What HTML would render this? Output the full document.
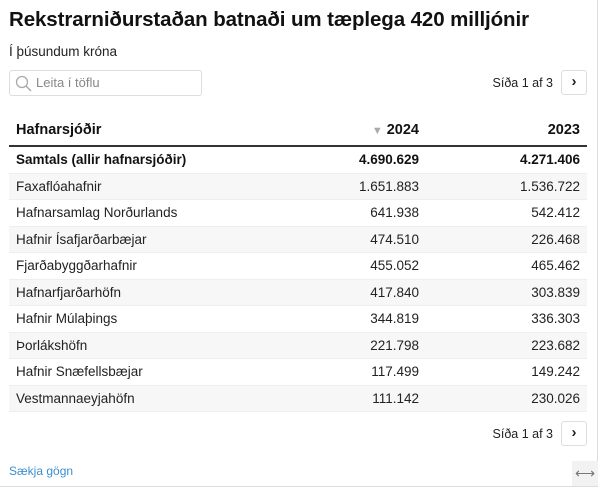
<!DOCTYPE html>
<html><head><meta charset="utf-8"><style>
body{margin:0;width:602px;height:489px;background:#fff;font-family:"Liberation Sans",sans-serif;color:#222;position:relative;overflow:hidden}
.frame{position:absolute;left:0;top:0;width:597px;height:486px;border-right:1px solid #ddd;border-bottom:1px solid #ddd}
h1{position:absolute;left:9px;top:8px;margin:0;font-size:20.5px;font-weight:bold;color:#111;letter-spacing:-0.1px}
.sub{position:absolute;left:9px;top:44px;font-size:13.5px;color:#222}
.search{position:absolute;left:9px;top:70px;width:191px;height:24px;border:1px solid #ddd;border-radius:3px;font-size:13px;color:#888}
.search span{position:absolute;left:26px;top:4px}
.pg{position:absolute;right:49px;font-size:12.5px;color:#222}
.btn{position:absolute;left:561px;width:24px;height:23px;border:1px solid #ddd;border-radius:3px;font-size:15px;font-weight:bold;text-align:center;line-height:21px;color:#222}
table{position:absolute;left:9px;top:114px;width:578px;border-collapse:collapse;font-size:13.5px;table-layout:fixed}
th{height:31px;font-weight:bold;font-size:14.5px;text-align:right;padding:0 7px;border-bottom:2px solid #333;color:#111}
th:first-child{text-align:left}
td{height:25.5px;padding:0 7px;text-align:right;border-bottom:1px solid #eee;color:#222}
td:first-child{text-align:left}
tr.b td{font-weight:bold;color:#111}
tr.g td{background:#f7f7f7}
.link{position:absolute;left:9px;top:464px;font-size:12px;color:#3b8fd0}
.rs{position:absolute;left:572px;top:461px;width:26px;height:25px;background:#f2f2f2;color:#777;font-size:14px;text-align:center;line-height:25px}
</style></head><body>
<div class="frame"></div>
<h1>Rekstrarniðurstaðan batnaði um tæplega 420 milljónir</h1>
<div class="sub">Í þúsundum króna</div>
<div class="search"><svg width="20" height="20" style="position:absolute;left:4px;top:3px"><circle cx="8" cy="8" r="5.5" fill="none" stroke="#aaa" stroke-width="1.3"/><line x1="12" y1="12" x2="17" y2="17" stroke="#aaa" stroke-width="1.5"/></svg><span>Leita í töflu</span></div>
<div class="pg" style="top:76px">Síða 1 af 3</div>
<div class="btn" style="top:70px">›</div>
<table>
<colgroup><col style="width:265px"><col style="width:152px"><col style="width:161px"></colgroup>
<tr><th>Hafnarsjóðir</th><th><span style="color:#aaa;font-size:11px">▼</span> 2024</th><th>2023</th></tr>
<tr class="b"><td>Samtals (allir hafnarsjóðir)</td><td>4.690.629</td><td>4.271.406</td></tr>
<tr class="g"><td>Faxaflóahafnir</td><td>1.651.883</td><td>1.536.722</td></tr>
<tr><td>Hafnarsamlag Norðurlands</td><td>641.938</td><td>542.412</td></tr>
<tr class="g"><td>Hafnir Ísafjarðarbæjar</td><td>474.510</td><td>226.468</td></tr>
<tr><td>Fjarðabyggðarhafnir</td><td>455.052</td><td>465.462</td></tr>
<tr class="g"><td>Hafnarfjarðarhöfn</td><td>417.840</td><td>303.839</td></tr>
<tr><td>Hafnir Múlaþings</td><td>344.819</td><td>336.303</td></tr>
<tr class="g"><td>Þorlákshöfn</td><td>221.798</td><td>223.682</td></tr>
<tr><td>Hafnir Snæfellsbæjar</td><td>117.499</td><td>149.242</td></tr>
<tr class="g"><td>Vestmannaeyjahöfn</td><td>111.142</td><td>230.026</td></tr>
</table>
<div class="pg" style="top:427px">Síða 1 af 3</div>
<div class="btn" style="top:421px">›</div>
<div class="link">Sækja gögn</div>
<div class="rs">⟷</div>
</body></html>
